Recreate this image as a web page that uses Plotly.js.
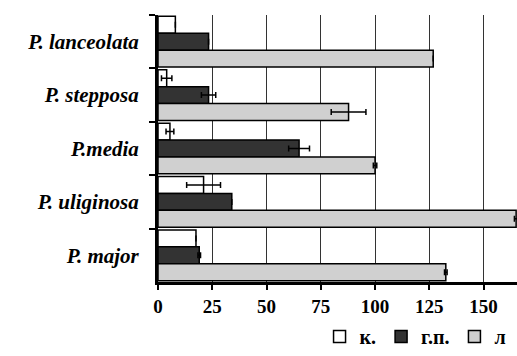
<!DOCTYPE html>
<html><head><meta charset="utf-8">
<script src="https://cdn.plot.ly/plotly-3.0.1.min.js"></script>
<style>html,body{margin:0;padding:0;background:#fff}#c{width:517px;height:356px}</style>
</head><body><div id="c"></div>
<script>
const species = ["P. lanceolata","P. stepposa","P.media","P. uliginosa","P. major"];
const seriesNames = ["к.","г.п.","л"];
const valK  = [8, 4, 5.5, 21, 17.5];
const errK  = [0, 2.4, 1.8, 7.8, 0];
const valGP = [23.3, 23.3, 65, 34, 19];
const errGP = [0, 3.3, 4.8, 0, 0.6];
const valL  = [126.8, 87.8, 100, 165, 132.6];
const errL  = [0, 8, 0.8, 0.8, 0.6];
const xTicks = [0,25,50,75,100,125,150];

function mk(name, x, err, color){
  return {type:'bar', orientation:'h', name:name, y:species, x:x,
    marker:{color:color, line:{color:'#000', width:1.5}},
    error_x:{type:'data', array:err, visible:true, color:'#000', thickness:1.5, width:3},
    hoverinfo:'skip'};
}
const data = [
  mk(seriesNames[0], valK, errK, '#ffffff'),
  mk(seriesNames[1], valGP, errGP, '#333333'),
  mk(seriesNames[2], valL, errL, '#d0d0d0')
];
const serif = '"Liberation Serif", "Times New Roman", serif';
const layout = {
  width:517, height:356,
  margin:{l:158, r:0, t:15, b:68},
  paper_bgcolor:'#fff', plot_bgcolor:'#fff',
  barmode:'group', bargap:0.05, bargroupgap:0,
  showlegend:true,
  legend:{orientation:'h', x:0.45, xanchor:'left', y:-0.205, yanchor:'middle',
    traceorder:'normal', font:{family:serif, size:20, color:'#000', weight:'bold'},
    itemwidth:30, tracegroupgap:0},
  xaxis:{range:[0,165.4], tickvals:xTicks, showgrid:true, gridcolor:'#333', gridwidth:1,
    zeroline:false, showline:true, linecolor:'#000', linewidth:3,
    ticks:'outside', ticklen:5, tickwidth:2, tickcolor:'#000',
    tickfont:{family:serif, size:19, color:'#000', weight:'bold'}, fixedrange:true},
  yaxis:{autorange:'reversed', type:'category', showgrid:false, zeroline:false,
    showline:true, linecolor:'#000', linewidth:3,
    ticks:'outside', tickson:'boundaries', ticklen:6, tickwidth:2, tickcolor:'#000',
    ticklabelstandoff:12,
    tickfont:{family:serif, size:21, color:'#000', weight:'bold', style:'italic'}, fixedrange:true}
};
Plotly.newPlot('c', data, layout, {displayModeBar:false, staticPlot:true});
</script></body></html>
